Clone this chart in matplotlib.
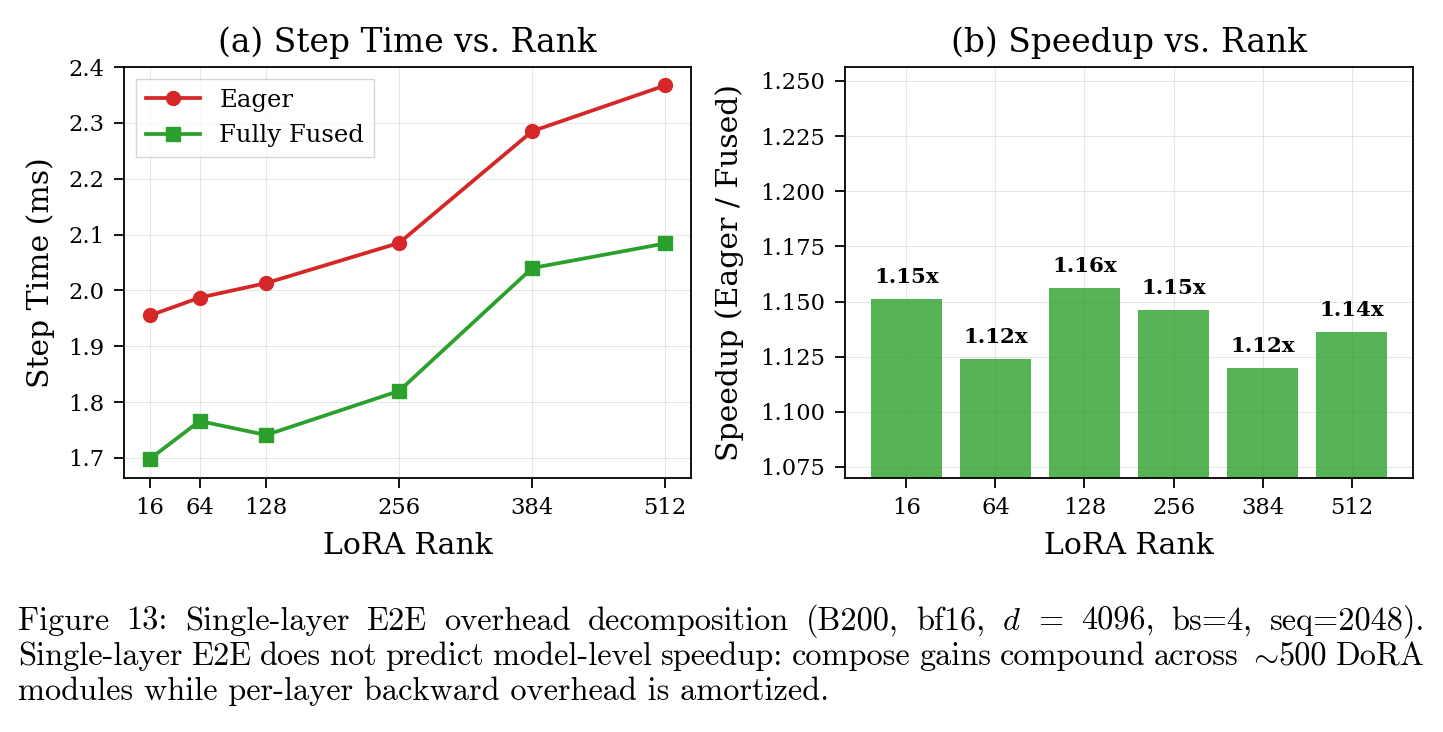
import matplotlib
matplotlib.use("Agg")
import matplotlib.pyplot as plt
import matplotlib.ticker as mticker
import numpy as np

ranks = [16, 64, 128, 256, 384, 512]
rank_labels = ["16", "64", "128", "256", "384", "512"]
eager_ms = [1.955, 1.987, 2.013, 2.085, 2.285, 2.367]
fused_ms = [1.698, 1.766, 1.741, 1.820, 2.040, 2.084]
speedup = [1.151, 1.124, 1.156, 1.146, 1.120, 1.136]
speedup_labels = ["1.15x", "1.12x", "1.16x", "1.15x", "1.12x", "1.14x"]
step_ticks = [1.7, 1.8, 1.9, 2.0, 2.1, 2.2, 2.3, 2.4]
speed_ticks = [1.075, 1.100, 1.125, 1.150, 1.175, 1.200, 1.225, 1.250]

# each word is a list of pieces placed with no space between them
caption_lines = [
    [["Figure"], ["13:"], ["Single-layer"], ["E2E"], ["overhead"], ["decomposition"], ["(B200,"],
     ["bf16,"], ["$d$"], ["="], ["4096,"], ["bs=4,"], ["seq=2048)."]],
    [["Single-layer"], ["E2E"], ["does"], ["not"], ["predict"], ["model-level"], ["speedup:"],
     ["compose"], ["gains"], ["compound"], ["across"], [r"$\sim$", "500"], ["DoRA"]],
    [["modules while per-layer backward overhead is amortized."]],
]

plt.rcParams["font.family"] = "DejaVu Serif"
plt.rcParams["mathtext.fontset"] = "cm"
plt.rcParams["axes.linewidth"] = 1.3

W, H = 1443, 732
fig = plt.figure(figsize=(W / 100, H / 100), dpi=100)
renderer = fig.canvas.get_renderer()


def fit(text, target_px, **kw):
    t = fig.text(0, 0, text, fontsize=10, **kw)
    w = t.get_window_extent(renderer).width
    t.remove()
    return 10.0 * target_px / w


fs_title = fit("(a) Step Time vs. Rank", 379)
fs_label = fit("LoRA Rank", 170)
fs_tick = fit("1.250", 64)
fs_leg = fit("Fully Fused", 145)
fs_bar = fit("1.15x", 65, fontweight="bold")
fs_cap = fit(caption_lines[2][0][0], 814, family="cmr10")

ax1 = fig.add_axes([124 / W, 1 - 478 / H, (691 - 124) / W, (478 - 67) / H])
ax2 = fig.add_axes([845 / W, 1 - 478 / H, (1413 - 845) / W, (478 - 67) / H])

red = "#d62728"
green = "#2ca02c"

ax1.plot(ranks, eager_ms, "-o", color=red, lw=2.7, ms=10, label="Eager")
ax1.plot(ranks, fused_ms, "-s", color=green, lw=2.7, ms=10, label="Fully Fused")
ax1.set_xticks(ranks)
ax1.set_xticklabels(rank_labels)
ax1.set_ylim(1.664, 2.40)
ax1.set_yticks(step_ticks)
ax1.grid(True, alpha=0.3)
ax1.set_xlabel("LoRA Rank", fontsize=fs_label, labelpad=9)
ax1.set_ylabel("Step Time (ms)", fontsize=fs_label, labelpad=10)
ax1.set_title("(a) Step Time vs. Rank", fontsize=fs_title, pad=11)
leg_px = fs_leg * 100 / 72
ax1.legend(loc="upper left", fontsize=fs_leg, handlelength=54 / leg_px,
           borderaxespad=0.5, fancybox=False, edgecolor="0.8")

x = np.arange(len(ranks))
ax2.bar(x, speedup, color=green, alpha=0.8, width=0.8)
for xi, v, lab in zip(x, speedup, speedup_labels):
    ax2.text(xi, v + 0.0055, lab, ha="center", va="bottom", fontsize=fs_bar, fontweight="bold")
ax2.set_xticks(x)
ax2.set_xticklabels(rank_labels)
ax2.set_ylim(1.07, 1.2563)
ax2.set_yticks(speed_ticks)
ax2.yaxis.set_major_formatter(mticker.FormatStrFormatter("%.3f"))
ax2.grid(True, alpha=0.3)
ax2.set_axisbelow(True)
ax2.set_xlabel("LoRA Rank", fontsize=fs_label, labelpad=9)
ax2.set_ylabel("Speedup (Eager / Fused)", fontsize=fs_label, labelpad=12)
ax2.set_title("(b) Speedup vs. Rank", fontsize=fs_title, pad=11)

for ax in (ax1, ax2):
    ax.tick_params(labelsize=fs_tick, length=7, width=1.3, pad=7)

# caption, justified
x0, x1 = 18, 1425
baselines = [630, 665, 700]
for li, words in enumerate(caption_lines):
    word_items = []
    for pieces in words:
        items = []
        for p in pieces:
            t = fig.text(0, 0, p, fontsize=fs_cap, family="cmr10", va="baseline", ha="left")
            items.append((t, t.get_window_extent(renderer).width))
        word_items.append(items)
    widths = [sum(w for _, w in items) for items in word_items]
    gap = (x1 - x0 - sum(widths)) / (len(words) - 1) if len(words) > 1 else 0
    cx = x0
    for items in word_items:
        for t, wd in items:
            t.set_position((cx / W, 1 - baselines[li] / H))
            cx += wd
        cx += gap

fig.savefig("out.png", dpi=100)
